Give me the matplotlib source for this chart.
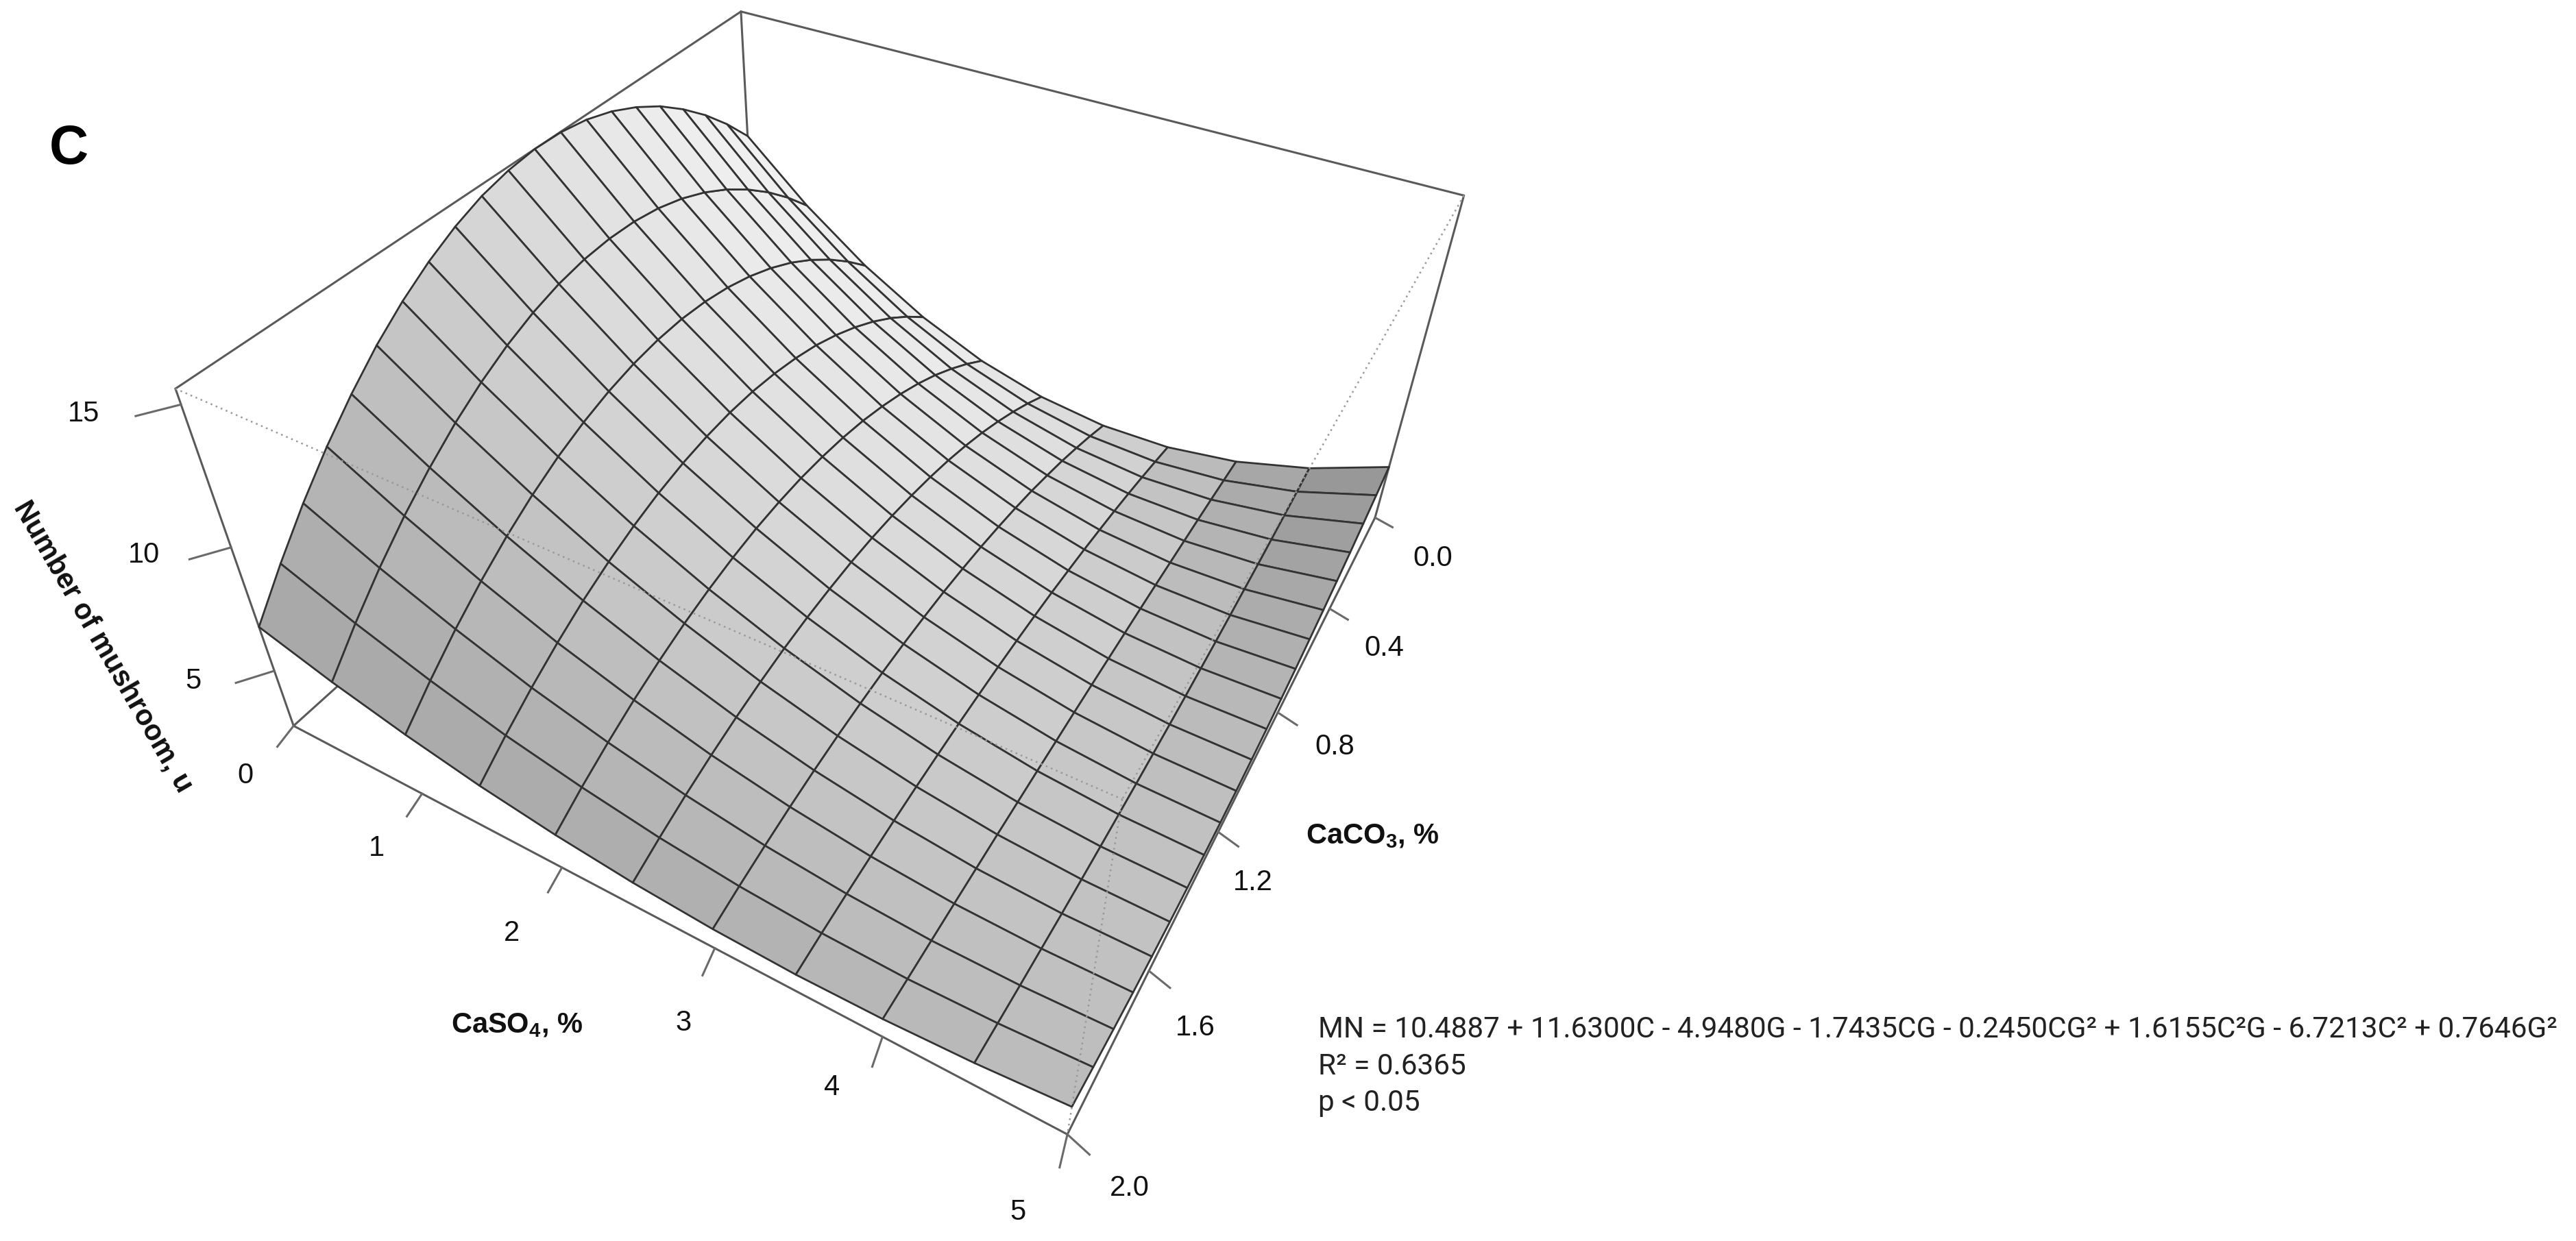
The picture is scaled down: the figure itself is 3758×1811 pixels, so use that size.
import numpy as np
import matplotlib
matplotlib.use("Agg")
import matplotlib.pyplot as plt
from matplotlib.collections import PolyCollection

CaSO4 = [0, 0.5, 1, 1.5, 2, 2.5, 3, 3.5, 4, 4.5, 5]
CaCO3 = [round(0.1*i, 1) for i in range(21)]
Z = np.array([
 [10.49,11.59,12.55,13.37,14.07,14.62,15.05,15.34,15.49,15.51,15.39,15.15,14.76,14.24,13.59,12.81,11.88,10.83,9.64,8.31,6.86],
 [8.21,9.22,10.11,10.88,11.54,12.08,12.50,12.80,12.98,13.04,12.99,12.82,12.53,12.12,11.59,10.95,10.18,9.30,8.30,7.18,5.94],
 [6.31,7.22,8.03,8.74,9.35,9.85,10.25,10.55,10.75,10.85,10.84,10.73,10.52,10.21,9.80,9.28,8.66,7.94,7.12,6.19,5.17],
 [4.79,5.59,6.31,6.94,7.48,7.94,8.32,8.60,8.80,8.92,8.95,8.89,8.75,8.52,8.20,7.80,7.32,6.74,6.08,5.34,4.52],
 [3.65,4.33,4.94,5.49,5.96,6.36,6.69,6.96,7.15,7.27,7.33,7.31,7.23,7.07,6.84,6.55,6.18,5.75,5.24,4.67,4.02],
 [2.90,3.45,3.94,4.38,4.77,5.10,5.38,5.60,5.77,5.89,5.96,5.97,5.92,5.83,5.68,5.47,5.21,4.90,4.54,4.12,3.65],
 [2.53,2.93,3.29,3.62,3.90,4.16,4.37,4.54,4.68,4.78,4.85,4.87,4.86,4.81,4.72,4.60,4.44,4.24,4.00,3.73,3.42],
 [2.54,2.78,3.00,3.20,3.38,3.53,3.67,3.78,3.88,3.95,4.00,4.03,4.03,4.02,3.98,3.93,3.85,3.75,3.63,3.49,3.32],
 [2.93,3.00,3.07,3.13,3.18,3.23,3.28,3.32,3.35,3.38,3.41,3.43,3.44,3.45,3.45,3.45,3.44,3.43,3.41,3.39,3.37],
 [3.71,3.59,3.49,3.40,3.32,3.26,3.20,3.15,3.12,3.09,3.08,3.08,3.09,3.11,3.14,3.18,3.23,3.30,3.37,3.46,3.55],
 [4.86,4.56,4.28,4.02,3.80,3.60,3.43,3.28,3.16,3.07,3.01,2.97,2.96,2.98,3.03,3.10,3.20,3.32,3.48,3.66,3.86],
])
z_ticks = [5, 10, 15]
g_ticks = [0, 1, 2, 3, 4, 5]
c_ticks = [0.0, 0.4, 0.8, 1.2, 1.6, 2.0]

G = np.array(CaSO4, float); C = np.array(CaCO3, float)
zmin, zmax = Z.min(), Z.max()

# perspective camera: normalised box coordinates -> figure pixels
P = np.array([[600.0865, -787.4854, -159.7337, 1104.066],
              [191.6108, 332.8384, -435.3416, 450.0658],
              [-0.1504651, -0.2608429, -0.1263696, 1.0]])

def proj(g,c,z):
    g,c,z=np.asarray(g,float),np.asarray(c,float),np.asarray(z,float)
    X=np.stack([g/5,c/2,(z-zmin)/(zmax-zmin),np.ones_like(g)],-1)
    h=X@P.T
    return h[...,0]/h[...,2],h[...,1]/h[...,2],h[...,2]

plt.rcParams['font.family']=['Liberation Sans']
plt.rcParams['mathtext.fontset']='custom'
plt.rcParams['mathtext.bf']='Liberation Sans:bold'
plt.rcParams['mathtext.rm']='Liberation Sans'

fig=plt.figure(figsize=(37.58,18.11),dpi=100)
ax=fig.add_axes([0,0,1,1]); ax.set_xlim(0,3758); ax.set_ylim(1811,0); ax.axis('off')

box=dict(color='#5a5a5a',lw=2.2,zorder=1,solid_capstyle='round')
def seg(p,q,**k):
    x,y,_=proj([p[0],q[0]],[p[1],q[1]],[p[2],q[2]])
    ax.plot(x,y,**k)
g0,g1,c0,c1=0,5,0,2
for p,q in [((g0,c1,zmax),(g0,c0,zmax)),((g0,c0,zmax),(g1,c0,zmax)),((g1,c0,zmax),(g1,c0,zmin)),
            ((g0,c1,zmax),(g0,c1,zmin)),((g0,c1,zmin),(g1,c1,zmin)),((g1,c1,zmin),(g1,c0,zmin)),
            ((g0,c0,zmax),(g0,c0,zmin)),((g0,c1,zmin),(g0,c0,zmin))]:
    seg(p,q,**box)

# surface
faces=[];shade=[];depth=[]
xs,ys,ws=proj(*np.meshgrid(G,C,indexing='ij'),Z)
for i in range(len(G)-1):
    for j in range(len(C)-1):
        faces.append([(xs[i+a,j+b],ys[i+a,j+b]) for a,b in ((0,0),(1,0),(1,1),(0,1))])
        dw=(zmax-zmin)
        du=((Z[i+1,j]+Z[i+1,j+1]-Z[i,j]-Z[i,j+1])/2)/dw*(len(G)-1)
        dv=((Z[i,j+1]+Z[i+1,j+1]-Z[i,j]-Z[i+1,j])/2)/dw*(len(C)-1)
        n=np.array([-du,-dv,1.0]);n/=np.linalg.norm(n)
        shade.append(np.clip(0.735+0.165*n[0]-0.15*n[1],0.5,0.95))
        depth.append(ws[i:i+2,j:j+2].mean())
order=np.argsort(-np.abs(np.array(depth)))
pc=PolyCollection([faces[k] for k in order],facecolors=[str(round(float(shade[k]),3)) for k in order],
                  edgecolors='#333333',linewidths=2.0,zorder=2)
ax.add_collection(pc)

dot=dict(color='#999999',lw=1.8,ls=(0,(1,2.2)),zorder=3)
for p,q in [((g0,c1,zmax),(g1,c1,zmax)),((g1,c0,zmax),(g1,c1,zmax)),((g1,c1,zmax),(g1,c1,zmin))]:
    seg(p,q,**dot)

tk=dict(color='#6a6a6a',lw=2.2,zorder=1)
for t in z_ticks:
    seg((0,2,t),(-0.12,2.07,t),**tk)
for t in g_ticks:
    seg((t,2,zmin),(t+0.035,2.065,zmin),**tk)
for t in c_ticks:
    seg((5,t,zmin),(5.13,t+0.015,zmin),**tk)

lab=dict(ha='center',va='center',fontsize=30,color='#111111')
for s,(x,y) in zip(['5','10','15'],[(282,994),(210,810),(122,604)]):
    ax.text(x,y,s,**lab)
for s,(x,y) in zip(['0','1','2','3','4','5'],[(358,1132),(549,1238),(747,1362),(997,1493),(1214,1587),(1485,1769)]):
    ax.text(x,y,s,**lab)
for s,(x,y) in zip(['0.0','0.4','0.8','1.2','1.6','2.0'],[(2090,815),(2019,946),(1947,1090),(1828,1288),(1744,1500),(1648,1734)]):
    ax.text(x,y,s,**lab)

bold=dict(ha='center',va='center',fontsize=30,color='#111111',fontweight='bold')
ax.text(754,1496,r'CaSO$_{\mathbf{4}}$, %',**bold)
ax.text(2002,1220,r'CaCO$_{\mathbf{3}}$, %',**bold)
ax.text(150,944,'Number of mushroom, u',rotation=-60,rotation_mode='anchor',**bold)
ax.text(100,218,'C',ha='center',va='center',fontsize=57,fontweight='bold',color='black')

eq=dict(ha='left',va='center',fontsize=30.4,family='Roboto',color='#222222')
ax.text(1923,1502,'MN = 10.4887 + 11.6300C - 4.9480G - 1.7435CG - 0.2450CG² + 1.6155C²G - 6.7213C² + 0.7646G²',**eq)
ax.text(1923,1556,'R² = 0.6365',**eq)
ax.text(1923,1610,'p < 0.05',**eq)

fig.savefig('out.png',dpi=100)
